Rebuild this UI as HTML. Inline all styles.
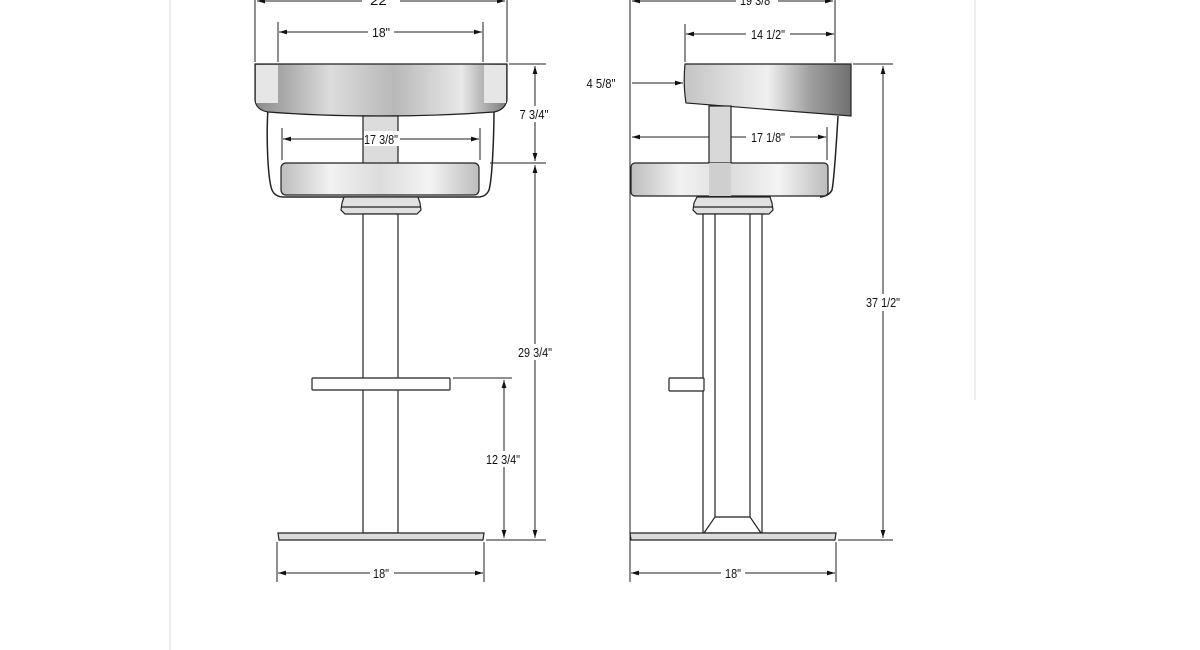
<!DOCTYPE html>
<html><head><meta charset="utf-8"><style>
html,body{margin:0;padding:0;background:#fff;}
svg{display:block;}
text{font-family:"Liberation Sans",sans-serif;font-size:13px;fill:#111;}
</style></head><body>
<svg width="1200" height="650" viewBox="0 0 1200 650" xmlns="http://www.w3.org/2000/svg">
<defs>
<linearGradient id="g1" x1="0" x2="1" y1="0" y2="0">
<stop offset="0" stop-color="#8a8a8a"/><stop offset="0.3" stop-color="#dcdcdc"/><stop offset="0.55" stop-color="#b8b8b8"/><stop offset="0.82" stop-color="#e8e8e8"/><stop offset="1" stop-color="#7a7a7a"/>
</linearGradient>
<linearGradient id="g2" x1="0" x2="1" y1="0" y2="0">
<stop offset="0" stop-color="#bdbdbd"/><stop offset="0.25" stop-color="#f2f2f2"/><stop offset="0.5" stop-color="#dcdcdc"/><stop offset="0.75" stop-color="#f4f4f4"/><stop offset="1" stop-color="#bcbcbc"/>
</linearGradient>
<linearGradient id="g3" x1="0" x2="1" y1="0" y2="0">
<stop offset="0" stop-color="#c4c4c4"/><stop offset="0.5" stop-color="#f0f0f0"/><stop offset="0.75" stop-color="#a0a0a0"/><stop offset="1" stop-color="#707070"/>
</linearGradient>
<marker id="a" viewBox="0 0 10 6" refX="10" refY="3" markerWidth="8" markerHeight="5" orient="auto-start-reverse"><path d="M0,0L10,3L0,6z" fill="#111"/></marker>
</defs>
<g stroke="#ddd" stroke-width="1"><line x1="170" y1="0" x2="170" y2="650"/><line x1="975" y1="0" x2="975" y2="400"/></g>

<g stroke="#222" stroke-width="1" fill="none">
<line x1="255" y1="0" x2="255" y2="62"/><line x1="507" y1="0" x2="507" y2="62"/>
<line x1="278" y1="22" x2="278" y2="62"/><line x1="483" y1="22" x2="483" y2="62"/>
<line x1="282" y1="128" x2="282" y2="160"/><line x1="480" y1="128" x2="480" y2="160"/>
<line x1="509" y1="64" x2="546" y2="64"/><line x1="490" y1="163" x2="546" y2="163"/>
<line x1="486" y1="540" x2="546" y2="540"/><line x1="453" y1="378" x2="512" y2="378"/>
<line x1="277" y1="542" x2="277" y2="582"/><line x1="484" y1="542" x2="484" y2="582"/>
<line x1="257" y1="1" x2="505" y2="1" marker-start="url(#a)" marker-end="url(#a)"/>
<line x1="279" y1="32" x2="482" y2="32" marker-start="url(#a)" marker-end="url(#a)"/>
<line x1="283" y1="139" x2="479" y2="139" marker-start="url(#a)" marker-end="url(#a)"/>
<line x1="535" y1="66" x2="535" y2="161" marker-start="url(#a)" marker-end="url(#a)"/>
<line x1="535" y1="165" x2="535" y2="538" marker-start="url(#a)" marker-end="url(#a)"/>
<line x1="504" y1="380" x2="504" y2="538" marker-start="url(#a)" marker-end="url(#a)"/>
<line x1="278" y1="573" x2="483" y2="573" marker-start="url(#a)" marker-end="url(#a)"/>
</g>
<g stroke="#222" stroke-width="1" fill="none">
<line x1="630" y1="0" x2="630" y2="540"/><line x1="835" y1="0" x2="835" y2="62"/>
<line x1="685" y1="24" x2="685" y2="62"/>
<line x1="827" y1="127" x2="827" y2="160"/>
<line x1="853" y1="64" x2="893" y2="64"/><line x1="838" y1="540" x2="893" y2="540"/>
<line x1="836" y1="542" x2="836" y2="582"/><line x1="630" y1="540" x2="630" y2="582"/>
<line x1="632" y1="1" x2="833" y2="1" marker-start="url(#a)" marker-end="url(#a)"/>
<line x1="686" y1="34" x2="834" y2="34" marker-start="url(#a)" marker-end="url(#a)"/>
<line x1="632" y1="83" x2="683" y2="83" marker-end="url(#a)"/>
<line x1="632" y1="137" x2="826" y2="137" marker-start="url(#a)" marker-end="url(#a)"/>
<line x1="883" y1="66" x2="883" y2="538" marker-start="url(#a)" marker-end="url(#a)"/>
<line x1="631" y1="573" x2="835" y2="573" marker-start="url(#a)" marker-end="url(#a)"/>
</g>

<g stroke="#222" stroke-width="1.2">
<path d="M268,108 C266,140 268,180 272,190 Q275,197 284,197 L478,197 Q486,197 489,190 C492,180 494,140 494,108" fill="none" stroke-width="1.5"/>
<path d="M255,64 L507,64 L507,100 Q505,110 494,112 Q440,116 381,116 Q320,116 268,112 Q256,110 255,100 Z" fill="url(#g1)"/>
<rect x="256" y="65" width="22" height="38" fill="#e6e6e6" stroke="none"/>
<rect x="484" y="65" width="22" height="38" fill="#e6e6e6" stroke="none"/>
<rect x="363" y="116" width="35" height="48" fill="#dcdcdc"/>
<rect x="281" y="163" width="198" height="32" rx="5" fill="url(#g2)"/>
<path d="M344,197 L418,197 L420,203 L421,210 L417,214 L345,214 L341,210 L342,203 Z" fill="#e0e0e0"/>
<line x1="342" y1="207" x2="421" y2="207"/>
<rect x="363" y="214" width="35" height="319" fill="#fff"/>
<rect x="312" y="378" width="138" height="12" rx="1" fill="#fff"/>
<path d="M278,533 L484,533 L483,540 L279,540 Z" fill="#ddd"/>
</g>
<g stroke="#222" stroke-width="1.2">
<path d="M838,116 C836,150 834,180 832,190 Q829,196 820,197" fill="none" stroke-width="1.5"/>
<path d="M685,64 L851,64 L851,116 L686,103 Q683,84 685,64 Z" fill="url(#g3)"/>
<rect x="709" y="106" width="22" height="92" fill="#d8d8d8"/>
<rect x="631" y="163" width="197" height="33" rx="4" fill="url(#g2)"/>
<rect x="709" y="163" width="22" height="33" fill="#cfcfcf" stroke="none"/>
<path d="M697,197 L770,197 L772,203 L773,210 L769,214 L697,214 L693,210 L694,203 Z" fill="#e0e0e0"/>
<line x1="694" y1="207" x2="773" y2="207"/>
<rect x="703" y="214" width="59" height="319" fill="#fff"/>
<path d="M715,214 L715,517 L704,533 M750,214 L750,517 L761,533 M715,517 L750,517" fill="none"/>
<rect x="669" y="378" width="35" height="13" rx="1" fill="#fff"/>
<path d="M630,533 L836,533 L835,540 L631,540 Z" fill="#ddd"/>
</g>

<g fill="#fff">
<rect x="362" y="-8" width="38" height="16"/><rect x="368" y="25" width="26" height="14"/>
<rect x="364" y="131" width="36" height="15"/><rect x="517" y="106" width="34" height="16"/>
<rect x="516" y="344" width="38" height="16"/><rect x="484" y="451" width="40" height="16"/>
<rect x="370" y="566" width="24" height="14"/>
<rect x="736" y="-8" width="42" height="16"/><rect x="746" y="26" width="44" height="16"/>
<rect x="746" y="130" width="44" height="15"/><rect x="721" y="566" width="24" height="14"/>
<rect x="864" y="294" width="40" height="17"/>
</g>
<g text-anchor="middle">
<text x="381" y="5" textLength="22" lengthAdjust="spacingAndGlyphs">22"</text>
<text x="381" y="37" textLength="18" lengthAdjust="spacingAndGlyphs">18"</text>
<text x="381" y="144" textLength="34" lengthAdjust="spacingAndGlyphs">17 3/8"</text>
<text x="534" y="119" textLength="29" lengthAdjust="spacingAndGlyphs">7 3/4"</text>
<text x="535" y="357" textLength="34" lengthAdjust="spacingAndGlyphs">29 3/4"</text>
<text x="503" y="464" textLength="34" lengthAdjust="spacingAndGlyphs">12 3/4"</text>
<text x="381" y="578" textLength="16" lengthAdjust="spacingAndGlyphs">18"</text>
<text x="757" y="5" textLength="34" lengthAdjust="spacingAndGlyphs">19 3/8"</text>
<text x="768" y="39" textLength="34" lengthAdjust="spacingAndGlyphs">14 1/2"</text>
<text x="601" y="88" textLength="29" lengthAdjust="spacingAndGlyphs">4 5/8"</text>
<text x="768" y="142" textLength="34" lengthAdjust="spacingAndGlyphs">17 1/8"</text>
<text x="883" y="307" textLength="34" lengthAdjust="spacingAndGlyphs">37 1/2"</text>
<text x="733" y="578" textLength="16" lengthAdjust="spacingAndGlyphs">18"</text>
</g>
</svg>
</body></html>
